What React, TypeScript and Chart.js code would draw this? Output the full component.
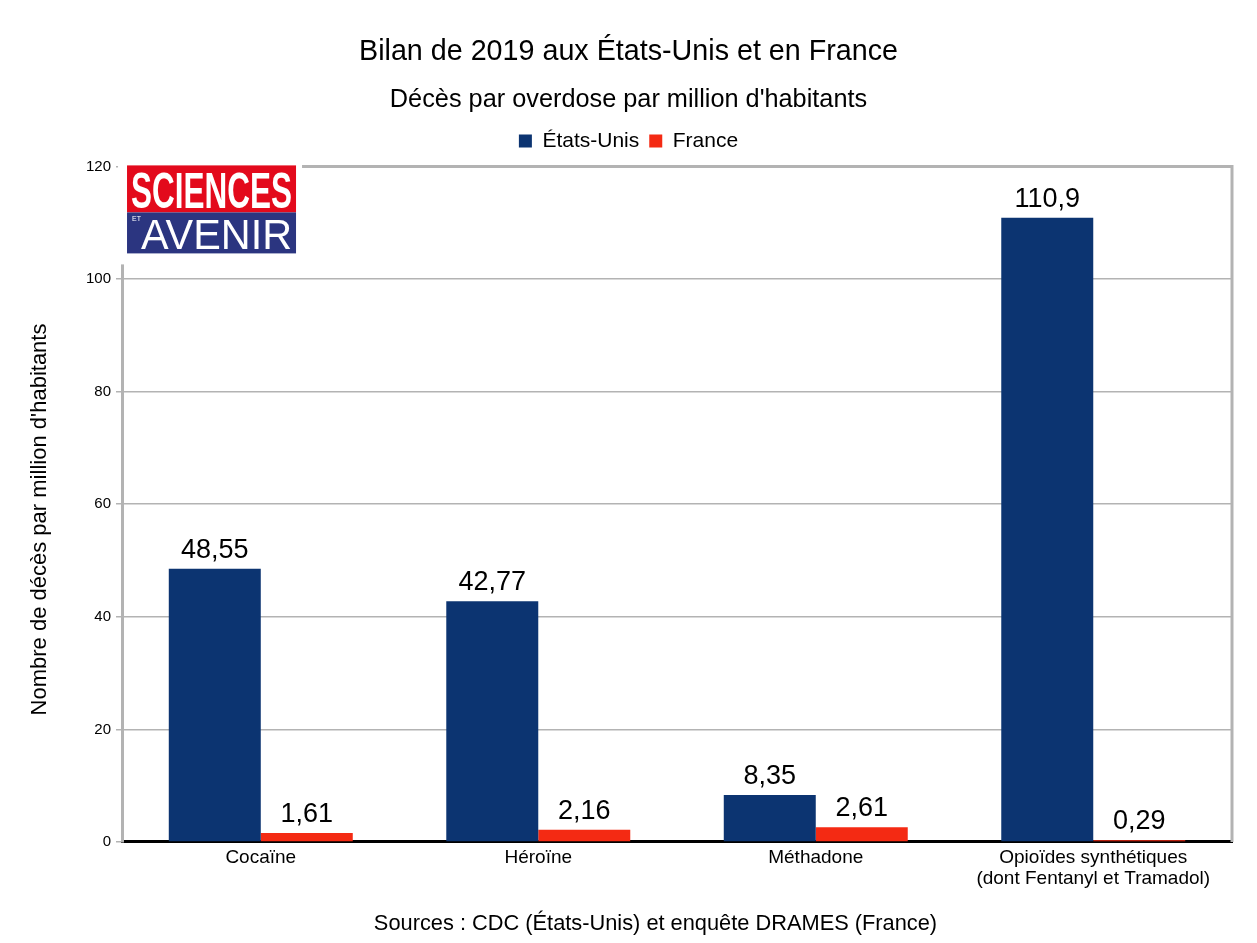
import React, { useEffect, useRef } from "react";
import { Chart, registerables } from "chart.js";

Chart.register(...registerables);

const categories: (string | string[])[] = [
  "Cocaïne",
  "Héroïne",
  "Méthadone",
  ["Opioïdes synthétiques", "(dont Fentanyl et Tramadol)"],
];
const seriesNames = ["États-Unis", "France"];
const usValues = [48.55, 42.77, 8.35, 110.9];
const franceValues = [1.61, 2.16, 2.61, 0.29];
const seriesColors = ["#0c3471", "#f42a13"];
const yMin = 0;
const yMax = 120;
const yStep = 20;

const titleText = "Bilan de 2019 aux États-Unis et en France";
const subtitleText = "Décès par overdose par million d'habitants";
const yAxisTitle = "Nombre de décès par million d'habitants";
const sourceText = "Sources : CDC (États-Unis) et enquête DRAMES (France)";

const FONT = "'Liberation Sans', Arial, sans-serif";
const GRAY = "#b3b3b3";

const fmt = (v: number) => String(v).replace(".", ",");

const legendGapPlugin = {
  id: "legendGap",
  beforeInit(chart: any) {
    const legend = chart.legend;
    if (!legend) return;
    const orig = legend.fit;
    legend.fit = function () {
      orig.call(this);
      this.height += 5;
    };
  },
};

const framePlugin = {
  id: "frame",
  beforeDatasetsDraw(chart: any) {
    const { ctx, chartArea } = chart;
    ctx.save();
    ctx.strokeStyle = GRAY;
    ctx.lineWidth = 3;
    ctx.beginPath();
    ctx.moveTo(chartArea.left, chartArea.top);
    ctx.lineTo(chartArea.right, chartArea.top);
    ctx.lineTo(chartArea.right, chartArea.bottom);
    ctx.stroke();
    ctx.restore();
  },
};

const valueLabelPlugin = {
  id: "valueLabels",
  afterDatasetsDraw(chart: any) {
    const { ctx } = chart;
    ctx.save();
    ctx.fillStyle = "#000";
    ctx.font = `27px ${FONT}`;
    ctx.textAlign = "center";
    ctx.textBaseline = "alphabetic";
    chart.data.datasets.forEach((ds: any, di: number) => {
      const meta = chart.getDatasetMeta(di);
      meta.data.forEach((bar: any, i: number) => {
        const v = ds.data[i];
        ctx.fillText(fmt(v), bar.x, bar.y - 11);
      });
    });
    ctx.restore();
  },
};

const decorPlugin = {
  id: "decor",
  afterDraw(chart: any) {
    const { ctx, chartArea, width } = chart;
    ctx.save();
    // logo
    const lx = chartArea.left + 5;
    const ly = chartArea.top - 1;
    ctx.fillStyle = "#fff";
    ctx.fillRect(chartArea.left - 4, ly - 12, 184, 111);
    ctx.fillStyle = "#e30a1c";
    ctx.fillRect(lx, ly, 169, 47);
    ctx.fillStyle = "#2b3580";
    ctx.fillRect(lx, ly + 47, 169, 41);
    ctx.fillStyle = "#fff";
    ctx.textAlign = "left";
    ctx.textBaseline = "alphabetic";
    ctx.font = `bold 50px ${FONT}`;
    let w = ctx.measureText("SCIENCES").width;
    ctx.save();
    ctx.translate(lx + 4, ly + 43);
    ctx.scale(161 / w, 1);
    ctx.fillText("SCIENCES", 0, 0);
    ctx.restore();
    ctx.font = `42px ${FONT}`;
    w = ctx.measureText("AVENIR").width;
    ctx.save();
    ctx.translate(lx + 14, ly + 84);
    ctx.scale(151 / w, 1);
    ctx.fillText("AVENIR", 0, 0);
    ctx.restore();
    ctx.font = `7px ${FONT}`;
    ctx.fillText("ET", lx + 5, ly + 56);
    // source
    ctx.fillStyle = "#000";
    ctx.textAlign = "center";
    ctx.textBaseline = "middle";
    ctx.font = `21.8px ${FONT}`;
    ctx.fillText(sourceText, width / 2 + 27, 924);
    ctx.restore();
  },
};

export default function App() {
  const ref = useRef<HTMLCanvasElement | null>(null);
  useEffect(() => {
    if (!ref.current) return;
    const chart = new Chart(ref.current, {
      type: "bar",
      data: {
        labels: categories as any,
        datasets: [
          {
            label: seriesNames[0],
            data: usValues,
            backgroundColor: seriesColors[0],
            categoryPercentage: 0.663,
            barPercentage: 1,
          },
          {
            label: seriesNames[1],
            data: franceValues,
            backgroundColor: seriesColors[1],
            categoryPercentage: 0.663,
            barPercentage: 1,
          },
        ],
      },
      options: {
        responsive: false,
        animation: false,
        devicePixelRatio: 1,
        layout: { padding: { left: 25, right: 25, top: 0, bottom: 48 } },
        plugins: {
          title: {
            display: true,
            text: titleText,
            color: "#000",
            font: { family: FONT, size: 28.7, weight: "normal", lineHeight: 1.2 },
            padding: { top: 34.6, bottom: 14 },
          },
          subtitle: {
            display: true,
            text: subtitleText,
            color: "#000",
            font: { family: FONT, size: 25.3, weight: "normal", lineHeight: 1.2 },
            padding: { top: 2, bottom: 5 },
          },
          legend: {
            display: true,
            position: "top",
            labels: {
              color: "#000",
              boxWidth: 13,
              boxHeight: 13,
              font: { family: FONT, size: 21 },
              padding: 10,
            },
          },
          tooltip: { enabled: false },
        },
        scales: {
          x: {
            grid: { display: false, drawTicks: false },
            border: { display: true, color: "#000", width: 3 },
            ticks: {
              color: "#000",
              font: { family: FONT, size: 19, lineHeight: 1.08 },
              padding: 6,
              maxRotation: 0,
              autoSkip: false,
            },
          },
          y: {
            min: yMin,
            max: yMax,
            ticks: {
              stepSize: yStep,
              color: "#000",
              font: { family: FONT, size: 15 },
              padding: 5,
            },
            grid: {
              color: GRAY,
              lineWidth: 1.5,
              tickLength: 6,
              tickColor: GRAY,
            },
            border: { display: true, color: GRAY, width: 3 },
            title: {
              display: true,
              text: yAxisTitle + "\u00a0".repeat(5),
              color: "#000",
              font: { family: FONT, size: 22, lineHeight: 1.2 },
              padding: { top: 1.8, bottom: 27.8 },
            },
          },
        },
      },
      plugins: [legendGapPlugin, framePlugin, valueLabelPlugin, decorPlugin],
    });
    return () => chart.destroy();
  }, []);
  return (
    <div style={{ position: "absolute", left: 0, top: 0, width: 1257, height: 943, background: "#fff" }}>
      <canvas ref={ref} width={1257} height={943} style={{ display: "block" }} />
    </div>
  );
}
